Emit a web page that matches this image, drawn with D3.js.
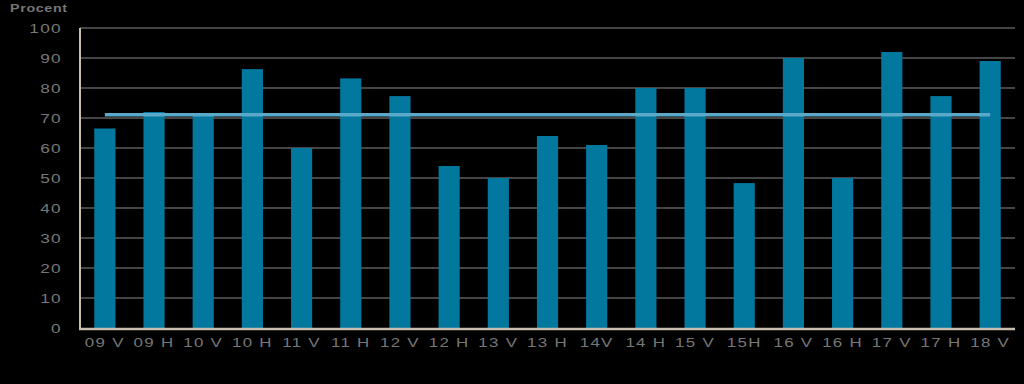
<!DOCTYPE html>
<html>
<head>
<meta charset="utf-8">
<script src="https://cdn.jsdelivr.net/npm/d3@7"></script>
<style>
  html, body { margin: 0; padding: 0; background: #000; }
  svg { display: block; }
  text { font-family: "Liberation Sans", Arial, sans-serif; fill: #777; }
</style>
</head>
<body>
<div id="chart"></div>
<script>
// half-year periods and the share in percent
const periods = ["09 V", "09 H", "10 V", "10 H", "11 V", "11 H", "12 V", "12 H", "13 V", "13 H",
                 "14V", "14 H", "15 V", "15H", "16 V", "16 H", "17 V", "17 H", "18 V"];
const shares = [66.5, 72, 71.3, 86.3, 60, 83.2, 77.3, 54, 50, 64,
                61, 80, 80, 48.3, 90, 50, 92, 77.3, 89];
// average over the whole period, drawn as a flat line
const average = periods.map(() => 71.1);
const yTicks = [0, 10, 20, 30, 40, 50, 60, 70, 80, 90, 100];

const width = 1024, height = 384;
const margin = {top: 28, right: 9, bottom: 56, left: 80};

const svg = d3.select("#chart").append("svg")
  .attr("width", width)
  .attr("height", height);

const x = d3.scaleBand()
  .domain(periods)
  .range([margin.left, width - margin.right])
  .paddingInner(0.57)
  .paddingOuter(0.29);

const y = d3.scaleLinear()
  .domain([0, 100])
  .range([height - margin.bottom, margin.top]);

// grid lines
svg.append("g")
  .selectAll("line")
  .data(yTicks.filter(d => d > 0))
  .enter()
  .append("line")
  .attr("x1", margin.left)
  .attr("x2", width - margin.right)
  .attr("y1", d => y(d))
  .attr("y2", d => y(d))
  .attr("stroke", "#8a8a8a")
  .attr("stroke-width", 1);

// bars
svg.append("g")
  .selectAll("rect")
  .data(shares)
  .enter()
  .append("rect")
  .attr("x", (d, i) => x(periods[i]))
  .attr("width", x.bandwidth())
  .attr("y", d => y(d))
  .attr("height", d => y(0) - y(d))
  .attr("fill", "#03789f");

// average line
const line = d3.line()
  .x((d, i) => x(periods[i]) + x.bandwidth() / 2)
  .y(d => y(d));

svg.append("path")
  .datum(average)
  .attr("d", line)
  .attr("fill", "none")
  .attr("stroke", "#5aa9c9")
  .attr("stroke-width", 3.5);

// y axis
const yAxis = svg.append("g")
  .attr("transform", "translate(" + margin.left + ",0)")
  .call(d3.axisLeft(y).tickValues(yTicks).tickSize(0).tickPadding(0));
yAxis.select(".domain").remove();
yAxis.selectAll("text")
  .attr("x", -13)
  .attr("transform", "scale(1.38,1)")
  .style("font-size", "12.5px")
  .style("letter-spacing", "1px")
  .attr("fill", "#777");

// x axis, labels stretched around their tick
const xAxis = svg.append("g")
  .attr("transform", "translate(0," + y(0) + ")")
  .call(d3.axisBottom(x).tickSize(0));
xAxis.select(".domain").remove();
xAxis.selectAll("text")
  .attr("y", 19)
  .attr("dy", 0)
  .attr("transform", "scale(1.3,1)")
  .style("font-size", "13px")
  .style("letter-spacing", "1px")
  .attr("fill", "#777");

// axis lines
svg.append("line")
  .attr("x1", margin.left).attr("x2", margin.left)
  .attr("y1", margin.top).attr("y2", y(0) + 1)
  .attr("stroke", "#c8bfae").attr("stroke-width", 2);
svg.append("line")
  .attr("x1", margin.left - 1).attr("x2", width - margin.right)
  .attr("y1", y(0) + 1).attr("y2", y(0) + 1)
  .attr("stroke", "#c8bfae").attr("stroke-width", 2.5);

// unit label
svg.append("text")
  .attr("x", 10 / 1.3)
  .attr("y", 12)
  .attr("transform", "scale(1.3,1)")
  .style("font-size", "11px")
  .style("font-weight", "bold")
  .style("letter-spacing", "0.5px")
  .attr("fill", "#808080")
  .text("Procent");
</script>
</body>
</html>
